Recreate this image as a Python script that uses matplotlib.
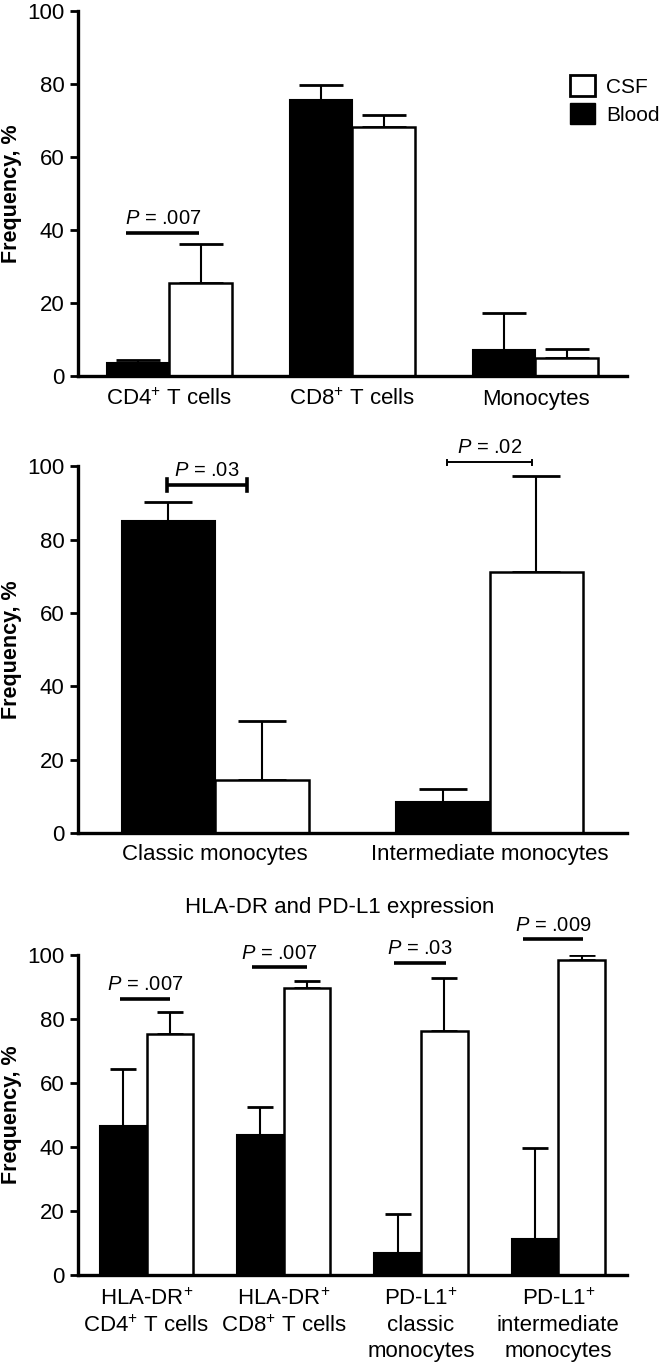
import matplotlib
matplotlib.use("Agg")
import matplotlib.pyplot as plt
from matplotlib.patches import Patch
import numpy as np

plt.rcParams['font.family'] = ['Liberation Sans', 'DejaVu Sans']
plt.rcParams['mathtext.fontset'] = 'custom'
plt.rcParams['mathtext.rm'] = 'Liberation Sans'
plt.rcParams['mathtext.it'] = 'Liberation Sans:italic'

# Panel 1 - T cells and monocytes
cats1 = ["CD4$^{+}$ T cells", "CD8$^{+}$ T cells", "Monocytes"]
blood1 = [3.6, 75.5, 7.1]
blood1_sd = [0.7, 4.3, 10.2]
csf1 = [25.5, 68.2, 5.0]
csf1_sd = [10.6, 3.4, 2.3]

# Panel 2 - monocyte subsets
cats2 = ["Classic monocytes", "Intermediate monocytes"]
blood2 = [85.0, 8.4]
blood2_sd = [5.2, 3.7]
csf2 = [14.5, 71.2]
csf2_sd = [16.1, 26.1]

# Panel 3 - HLA-DR and PD-L1
cats3 = ["HLA-DR$^{+}$\nCD4$^{+}$ T cells", "HLA-DR$^{+}$\nCD8$^{+}$ T cells",
         "PD-L1$^{+}$\nclassic\nmonocytes", "PD-L1$^{+}$\nintermediate\nmonocytes"]
blood3 = [46.5, 43.9, 6.9, 11.2]
blood3_sd = [18.0, 8.6, 12.3, 28.5]
csf3 = [75.4, 89.6, 76.1, 98.4]
csf3_sd = [6.9, 2.4, 16.6, 1.6]

# p-values: (group index, bracket height, left offset, right offset, text)
pvals1 = [(0, 39.2, -0.235, 0.164, ".007")]
pvals2 = [(0, 94.8, -0.175, 0.117, ".03"), (1, 101.0, -0.157, 0.153, ".02")]
pvals3 = [(0, 86.3, -0.19, 0.17, ".007"), (1, 96.2, -0.23, 0.17, ".007"),
          (2, 97.6, -0.20, 0.18, ".03"), (3, 104.9, -0.26, 0.18, ".009")]

fig = plt.figure(figsize=(6.6, 13.67), dpi=100)
ax1 = fig.add_axes([0.118, 0.7249, 0.832, 0.2671])
ax2 = fig.add_axes([0.118, 0.3906, 0.832, 0.2684])
ax3 = fig.add_axes([0.118, 0.0673, 0.832, 0.2341])

w = 0.34


def draw_panel(ax, cats, blood, blood_sd, csf, csf_sd, capsize, pad):
    x = np.arange(len(cats))
    ax.bar(x - w / 2, blood, w, color="black", edgecolor="black", lw=1.5, zorder=3)
    ax.bar(x + w / 2, csf, w, color="white", edgecolor="black", lw=1.8, zorder=3)
    ax.errorbar(x - w / 2, blood, yerr=[np.zeros(len(x)), blood_sd], fmt="none",
                ecolor="black", elinewidth=1.5, capsize=capsize, capthick=2, zorder=2)
    ax.errorbar(x + w / 2, csf, yerr=[np.zeros(len(x)), csf_sd], fmt="none",
                ecolor="black", elinewidth=1.5, capsize=capsize, capthick=2, zorder=2)
    ax.set_xlim(-0.5, len(cats) - 0.5)
    ax.set_ylim(0, 100)
    ax.set_yticks([0, 20, 40, 60, 80, 100])
    ax.set_xticks(x)
    ax.set_xticklabels(cats, fontsize=16, linespacing=1.3)
    ax.tick_params(axis="x", length=0, pad=pad)
    ax.tick_params(axis="y", direction="out", length=5.5, width=2, labelsize=16, pad=4)
    for s in ["top", "right"]:
        ax.spines[s].set_visible(False)
    for s in ["left", "bottom"]:
        ax.spines[s].set_linewidth(2.4)
    ax.spines["left"].set_zorder(5)
    ax.spines["bottom"].set_zorder(5)
    ax.set_ylabel("Frequency, %", fontsize=15.5, fontweight="bold")
    ax.yaxis.set_label_coords(-0.101, 0.5)


def draw_p(ax, pvals, caps=None, lw=2.6):
    for i, (g, yb, l, r, txt) in enumerate(pvals):
        this_lw = lw if caps is None else caps[i][1]
        ax.plot([g + l, g + r], [yb, yb], color="black", lw=this_lw,
                solid_capstyle="butt", clip_on=False)
        if caps is not None and caps[i][0] > 0:
            c = caps[i][0]
            ax.plot([g + l, g + l], [yb - c, yb + c], color="black", lw=this_lw, clip_on=False)
            ax.plot([g + r, g + r], [yb - c, yb + c], color="black", lw=this_lw, clip_on=False)
        ax.text(g + (l + r) / 2, yb + 1.4, "$\\mathit{P}$ = " + txt, ha="center",
                va="bottom", fontsize=14.5, clip_on=False)


draw_panel(ax1, cats1, blood1, blood1_sd, csf1, csf1_sd, capsize=16, pad=9)
draw_p(ax1, pvals1)

draw_panel(ax2, cats2, blood2, blood2_sd, csf2, csf2_sd, capsize=17, pad=8)
draw_p(ax2, pvals2, caps=[(1.6, 2.6), (0.6, 1.4)])

draw_panel(ax3, cats3, blood3, blood3_sd, csf3, csf3_sd, capsize=9.5, pad=10)
draw_p(ax3, pvals3)

fig.text(340 / 660, 1 - 907 / 1367, "HLA-DR and PD-L1 expression", ha="center",
         va="center", fontsize=16)

# legend in top panel
handles = [Patch(facecolor="white", edgecolor="black", lw=2), Patch(facecolor="black", edgecolor="black")]
fig.legend(handles, ["CSF", "Blood"], loc="upper left", bbox_to_anchor=(570 / 660, 1 - 75 / 1367),
           frameon=False, fontsize=15, handlelength=1.2, handleheight=1.2,
           labelspacing=0.3, handletextpad=0.55, borderpad=0, borderaxespad=0)

plt.savefig("out.png", dpi=100)
